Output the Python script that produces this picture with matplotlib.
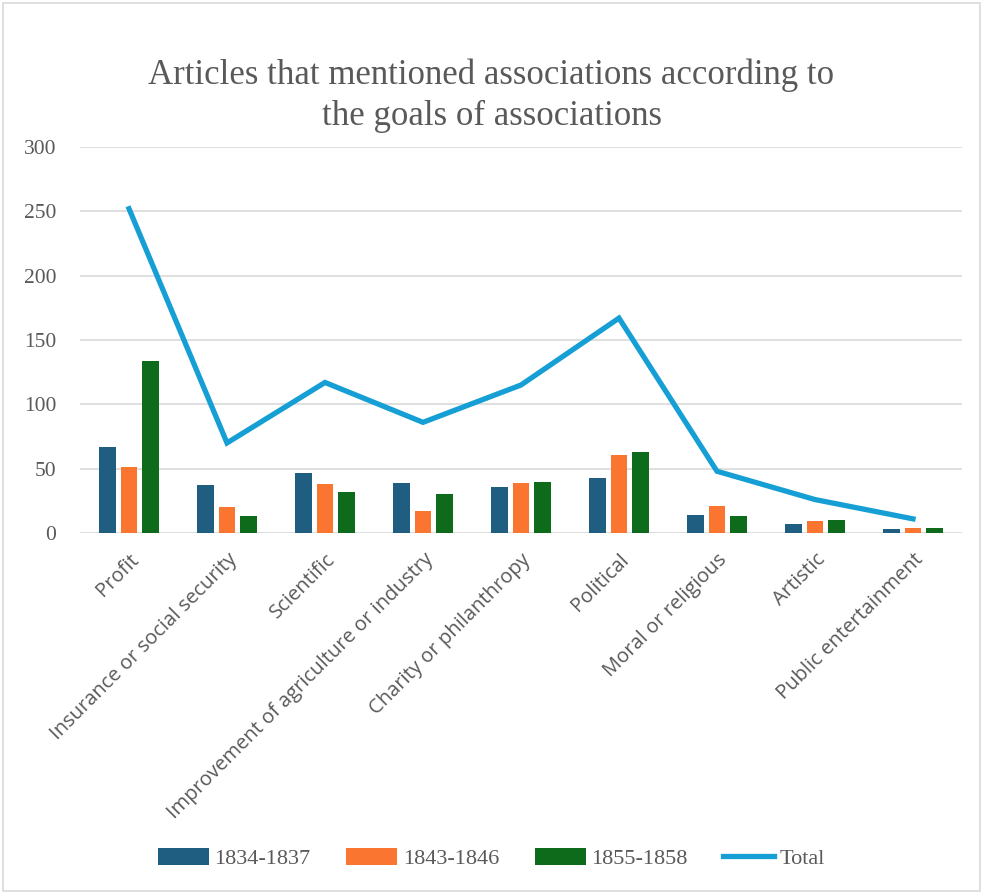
import numpy as np
import matplotlib.pyplot as plt
from matplotlib.patches import Rectangle

categories = ["Profit", "Insurance or social security", "Scientific",
              "Improvement of agriculture or industry", "Charity or philanthropy",
              "Political", "Moral or religious", "Artistic", "Public entertainment"]
p1834 = [67, 37, 47, 39, 36, 43, 14, 7, 3]
p1843 = [51, 20, 38, 17, 39, 61, 21, 9, 4]
p1855 = [134, 13, 32, 30, 40, 63, 13, 10, 4]
total = [252, 70, 117, 86, 115, 167, 48, 26, 11]

series = [("1834-1837", p1834, "#1F5E80"),
          ("1843-1846", p1843, "#FA7630"),
          ("1855-1858", p1855, "#0D6B1B")]

serif = ["Liberation Serif", "DejaVu Serif"]
sans = ["Open Sans", "DejaVu Sans"]
txt = "#595959"

fig = plt.figure(figsize=(9.83, 8.94), dpi=100)
fig.patches.append(Rectangle((0.003, 0.003), 0.994, 0.994, transform=fig.transFigure,
                             fill=False, edgecolor="#D9D9D9", linewidth=1.2))
ax = fig.add_axes([0.0814, 0.4038, 0.8972, 0.4318])

x = np.arange(len(categories))
w = 0.17
pitch = 0.22
for i, (name, vals, col) in enumerate(series):
    ax.bar(x + (i - 1) * pitch, vals, width=w, color=col, label=name, zorder=2)
ax.plot(x, total, color="#169FD4", linewidth=3.8, label="Total", zorder=3,
        solid_joinstyle="miter")

ax.set_xlim(-0.5, len(categories) - 0.5)
ax.set_ylim(0, 300)
ax.set_yticks(range(0, 301, 50))
ax.grid(axis="y", color="#D9D9D9", linewidth=1.2, zorder=0)
for s in ax.spines.values():
    s.set_visible(False)
ax.tick_params(length=0)
ax.set_yticklabels([str(v) for v in range(0, 301, 50)], fontfamily=serif,
                   fontsize=15.5, color=txt)
ax.tick_params(axis="y", pad=17)
ax.set_xticks(x)
ax.set_xticklabels(categories, rotation=45, ha="right", rotation_mode="anchor",
                   fontfamily=sans, fontsize=14.5, color=txt)
ax.tick_params(axis="x", pad=12)

fig.text(0.5, 0.893, "Articles that mentioned associations according to\nthe goals of associations",
         ha="center", va="center", fontfamily=serif, fontsize=25, color=txt,
         linespacing=1.3)

handles, labels = ax.get_legend_handles_labels()
order = [1, 2, 3, 0]
fig.legend([handles[i] for i in order], [labels[i] for i in order],
           loc="center", bbox_to_anchor=(0.5, 0.04), ncol=4, frameon=False,
           prop={"family": serif, "size": 16}, labelcolor=txt,
           handlelength=2.3, handleheight=0.8, handletextpad=0.25, columnspacing=1.6)

fig.savefig("out.png", dpi=100)
